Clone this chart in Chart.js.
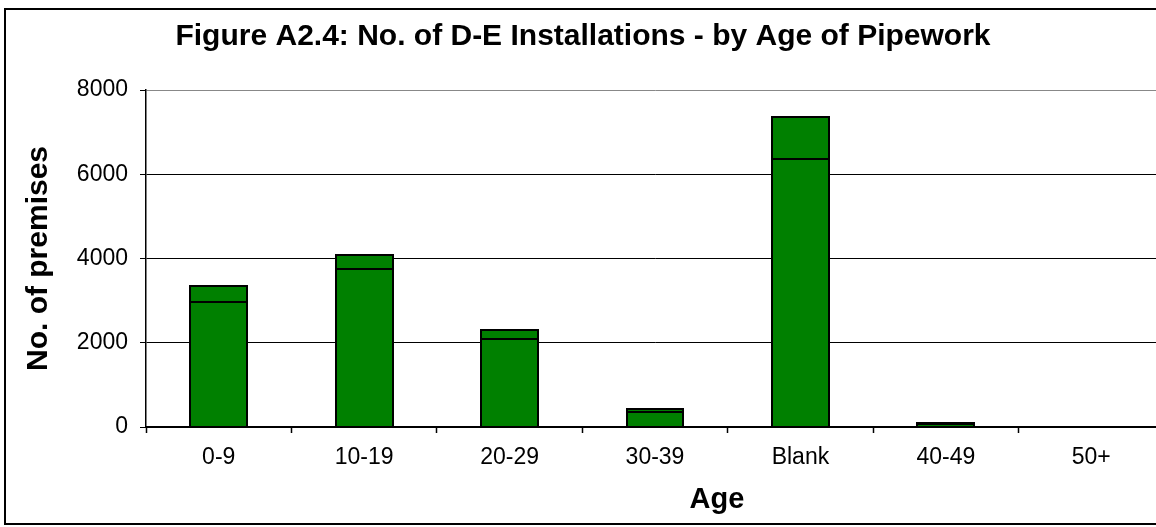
<!DOCTYPE html>
<html>
<head>
<meta charset="utf-8">
<script src="https://cdn.jsdelivr.net/npm/chart.js@4.4.1/dist/chart.umd.min.js"></script>
<style>
  html, body { margin: 0; padding: 0; background: #fff; overflow: hidden; }
  #wrap { position: absolute; left: 0; top: 0; width: 1212px; height: 527px; }
</style>
</head>
<body>
<div id="wrap"><canvas id="c" width="1212" height="527"></canvas></div>
<script>
// Age bands of the pipework
const categories = ['0-9', '10-19', '20-29', '30-39', 'Blank', '40-49', '50+'];
// Lower and upper stacked segments (no. of premises)
const lowerSeries = [2975, 3750, 2080, 350, 6370, 70, 0];
const upperSeries = [380, 330, 220, 75, 995, 30, 0];
const yTicks = [0, 2000, 4000, 6000, 8000];

const titleText = 'Figure A2.4: No. of D-E Installations - by Age of Pipework';
const xTitleText = 'Age';
const FONT = "'Liberation Sans', Arial, sans-serif";

// Outer frame, chart heading and horizontal axis title
const framePlugin = {
  id: 'frame',
  beforeDraw(chart) {
    const ctx = chart.ctx;
    ctx.save();
    ctx.fillStyle = '#fff';
    ctx.fillRect(0, 0, chart.width, chart.height);
    ctx.strokeStyle = '#000';
    ctx.lineWidth = 2;
    ctx.strokeRect(5, 9, 1202, 515);
    ctx.restore();
  },
  afterDraw(chart) {
    const ctx = chart.ctx;
    ctx.save();
    ctx.fillStyle = '#000';
    ctx.textAlign = 'center';
    ctx.textBaseline = 'alphabetic';
    ctx.font = 'bold 30px ' + FONT;
    ctx.fillText(titleText, 583, 45);
    ctx.font = 'bold 29px ' + FONT;
    ctx.fillText(xTitleText, 717, 508);
    ctx.restore();
  }
};

// Crisp black outline around every bar segment, snapped to whole pixels
const outlinePlugin = {
  id: 'segmentOutline',
  afterDatasetsDraw(chart) {
    const ctx = chart.ctx;
    ctx.save();
    ctx.strokeStyle = '#000';
    ctx.lineWidth = 2;
    chart.data.datasets.forEach((ds, i) => {
      chart.getDatasetMeta(i).data.forEach(el => {
        const p = el.getProps(['x', 'y', 'base', 'width'], true);
        const left = Math.round(p.x - p.width / 2);
        const right = Math.round(p.x + p.width / 2);
        const top = Math.round(Math.min(p.y, p.base));
        const bottom = Math.round(Math.max(p.y, p.base));
        if (bottom - top < 1) return;
        ctx.strokeRect(left, top, right - left, bottom - top);
      });
    });
    ctx.restore();
  }
};

const barStyle = {
  backgroundColor: '#008000',
  borderWidth: 0,
  inflateAmount: 0
};

new Chart(document.getElementById('c'), {
  type: 'bar',
  data: {
    labels: categories,
    datasets: [
      Object.assign({ data: lowerSeries }, barStyle),
      Object.assign({ data: upperSeries }, barStyle)
    ]
  },
  options: {
    responsive: false,
    animation: false,
    devicePixelRatio: 1,
    layout: { padding: { top: 90, right: 48, left: 0, bottom: 0 } },
    datasets: { bar: { categoryPercentage: 1, barPercentage: 0.39 } },
    plugins: { legend: { display: false }, tooltip: { enabled: false }, title: { display: false } },
    scales: {
      x: {
        stacked: true,
        afterFit(s) { s.height = 100; },
        grid: { offset: true, drawOnChartArea: false, drawTicks: true, tickLength: 6, tickColor: '#000', tickWidth: 1.5 },
        border: { color: '#000', width: 2, z: 1 },
        ticks: { color: '#000', font: { family: FONT, size: 23 }, padding: 11, maxRotation: 0 },
        title: { display: false }
      },
      y: {
        stacked: true,
        min: 0, max: 8000,
        afterFit(s) { s.width = 146; },
        afterBuildTicks(s) { s.ticks = yTicks.map(v => ({ value: v })); },
        grid: {
          color: ctx => (ctx.tick && ctx.tick.value === 8000 ? '#888' : '#000'),
          lineWidth: 1,
          tickLength: 6,
          tickColor: '#000'
        },
        border: { color: '#000', width: 1.5 },
        ticks: { color: '#000', font: { family: FONT, size: 23 }, padding: 12, callback: v => String(v) },
        title: { display: true, text: 'No. of premises', color: '#000', font: { family: FONT, size: 30, weight: 'bold' }, padding: { top: 21, bottom: 0 } }
      }
    }
  },
  plugins: [framePlugin, outlinePlugin]
});
</script>
</body>
</html>
